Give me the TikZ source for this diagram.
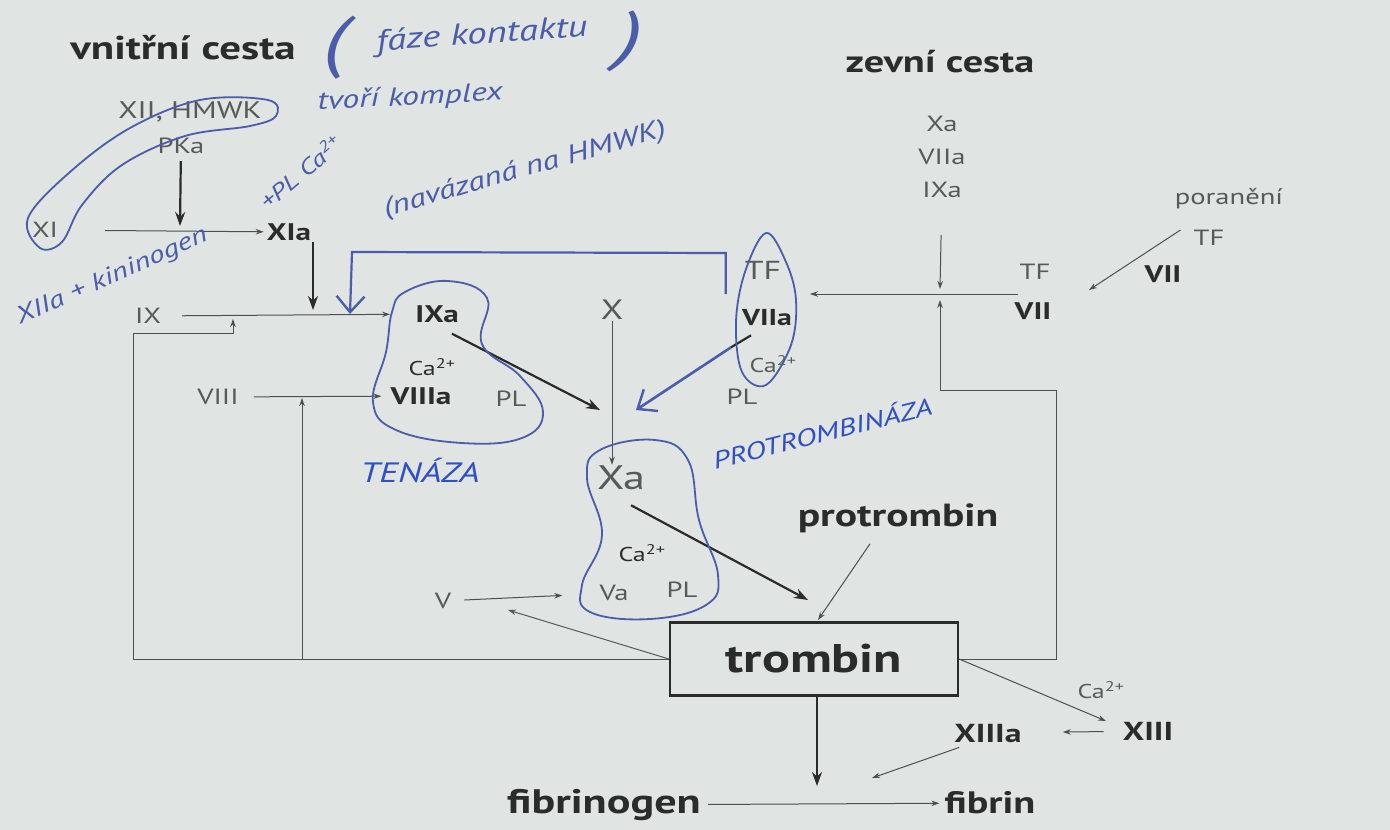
\documentclass[tikz,border=0pt]{standalone}
\usepackage{fontspec}
\setmainfont{PT Sans}[FakeStretch=1.3]
\usetikzlibrary{arrows.meta,calc}
\definecolor{bg}{HTML}{E0E4E2}
\definecolor{ink}{HTML}{2A2C2B}
\definecolor{gr}{HTML}{565B59}
\definecolor{ln}{HTML}{4C504E}
\definecolor{pen}{HTML}{4A5CAA}
\definecolor{pen2}{HTML}{2F4FC4}
\newcommand{\fs}[1]{\fontsize{#1}{#1}\selectfont}
\begin{document}
\begin{tikzpicture}[x=1pt,y=-1pt,
  lbl/.style={text=gr,inner sep=1pt,font=\fs{22}},
  blbl/.style={text=ink,inner sep=1pt,font=\fs{24}\bfseries},
  title/.style={text=ink,inner sep=1pt,font=\fs{33}\bfseries},
  big/.style={text=ink,inner sep=1pt,font=\fs{32}\bfseries},
  small/.style={text=gr,inner sep=1pt,font=\fs{20}},
  tn/.style={draw=ln,line width=1pt,-{Stealth[length=8pt,width=5.5pt]}},
  tk/.style={draw=ink,line width=2.2pt,-{Stealth[length=14pt,width=10pt]}},
  blob/.style={draw=pen,line width=1.8pt},
  hand/.style={text=pen,inner sep=0pt,font=\fs{26}\itshape},
  caps/.style={text=pen2,inner sep=0pt,font=\fs{28}\itshape}
]
\fill[bg] (0,0) rectangle (1390,830);
\useasboundingbox (0,0) rectangle (1390,830);

% titles
\node[title] (vc) at (183,48) {vnitřní cesta};
\node[title,font=\fs{31}\bfseries] (zc) at (940,62) {zevní cesta};

% intrinsic labels
\node[lbl,font=\fs{24}] (xii) at (190,112) {XII, HMWK};
\node[lbl] (pka) at (181,146) {PKa};
\node[lbl] (xi) at (45,230) {XI};
\node[blbl] (xia) at (289,232) {XIa};
\node[lbl] (ix) at (148,316) {IX};
\node[blbl] (ixa) at (437,314) {IXa};
\node[small,text=ink] (ca1) at (432,367) {Ca\textsuperscript{2+}};
\node[lbl] (viii) at (218,397) {VIII};
\node[blbl] (viiia) at (421,396) {VIIIa};
\node[small,font=\fs{22}] (pl1) at (511,399) {PL};
\node[lbl,font=\fs{28}] (x) at (612,310) {X};

% extrinsic
\node[lbl,font=\fs{26}] (tf1) at (763,270) {TF};
\node[blbl,font=\fs{23}\bfseries] (viia) at (767,318) {VIIa};
\node[small] (ca2) at (773,364) {Ca\textsuperscript{2+}};
\node[small,font=\fs{22}] (pl2) at (742,397) {PL};
\node[lbl] (e1) at (942,124) {Xa};
\node[lbl] (e2) at (942,157) {VIIa};
\node[lbl] (e3) at (942,190) {IXa};
\node[lbl] (tf2) at (1035,272) {TF};
\node[blbl] (vii1) at (1033,311) {VII};
\node[lbl] (por) at (1229,199) {poranění};
\node[lbl] (tf3) at (1209,238) {TF};
\node[blbl] (vii2) at (1163,274) {VII};

% common
\node[lbl,font=\fs{34}] (xa) at (621,478) {Xa};
\node[small,text=ink] (ca3) at (642,553) {Ca\textsuperscript{2+}};
\node[lbl] (va) at (614,593) {Va};
\node[small,font=\fs{22}] (pl3) at (682,590) {PL};
\node[lbl] (v) at (443,601) {V};
\node[big] (prot) at (898,518) {protrombin};
\node[draw=ink,line width=2.2pt,minimum width=288pt,minimum height=73pt,inner sep=0pt,
      font=\fs{40}\bfseries,text=ink] (tromb) at (814,659) {trombin};
\node[big,font=\fs{34}\bfseries] (fbg) at (604,805) {fibrinogen};
\node[big,font=\fs{31}\bfseries] (fib) at (990,803) {fibrin};
\node[small] (ca4) at (1101,690) {Ca\textsuperscript{2+}};
\node[blbl,font=\fs{26}\bfseries] (xiiia) at (988,733) {XIIIa};
\node[blbl,font=\fs{26}\bfseries] (xiii) at (1148,731) {XIII};

% coordinates
\coordinate (m1) at (180,226);
\coordinate (m2) at (313,310);
\coordinate (fb1) at (133,659);
\coordinate (fb2) at (133,333);
\coordinate (fb3) at (233,333);
\coordinate (fb4) at (233,319);
\coordinate (fb5) at (302,659);
\coordinate (fb6) at (302,398);
\coordinate (h1) at (600,410);
\coordinate (h2) at (636,410);
\coordinate (ex1) at (940,294);
\coordinate (ex2) at (940,390);
\coordinate (ex3) at (1056,390);
\coordinate (ex4) at (1056,659);
\coordinate (h3) at (808,600);
\coordinate (h4) at (818,620);
\coordinate (h5) at (508,610);
\coordinate (h6) at (1106,721);
\coordinate (h7) at (817,786);
\coordinate (h8) at (872,778);

% intrinsic connectors
\draw[tk,shorten <=6pt] (pka) -- (m1);
\draw[tn,shorten <=46pt,shorten >=2pt] (xi) -- (xia);
\draw[tk] (xia.south -| m2) -- (m2);
\draw[tn,shorten <=20pt,shorten >=24pt] (ix) -- (ixa);
\draw[tn] (tromb.west) -- (fb1) -- (fb2) -- (fb3) -- (fb4);
\draw[tn] (fb5) -- (fb6);
\draw[tn,shorten <=14pt,shorten >=8pt] (viii) -- (viiia);
\draw[tk] ($(ixa.south east)+(-8,10)$) -- (h1);
\draw[tn] (x.south) -- (x.south |- xa.north);

% extrinsic connectors
\draw[tk,-] ($(viia.south)+(-16,8)$) -- ($(viia.south)+(-36,20)$);
\draw[pen,line width=2.6pt,-{Straight Barb[length=16pt,width=26pt,line width=2.4pt]}] ($(viia.south)+(-36,20)$) -- (h2);
\draw[tn] (tf2.south west |- ex1) -- (810,294);
\draw[tn,shorten <=36pt] (e3) -- (940,289);
\draw[tn] (tromb.east) -- (ex4) -- (ex3) -- (ex2) -- (940,300);
\draw[tn] ($(tf3.west)+(-12,-8)$) -- (1089,290);

% common connectors
\draw[tk] ($(xa.south)+(10,14)$) -- (h3);
\draw[tn] ($(prot.south)+(-28,10)$) -- (h4);
\draw[tn,shorten <=12pt,shorten >=36pt] (v) -- (va);
\draw[tn,draw=gr] (tromb.west) -- (h5);
\draw[tk] (tromb.south -| h7) -- (h7);
\draw[tn,shorten <=6pt,shorten >=4pt] (fbg) -- (fib);
\draw[tn] (tromb.east) -- (h6);
\draw[tn,shorten <=18pt,shorten >=40pt] (xiii) -- (xiiia);
\draw[tn] ($(xiiia.south west)+(6,4)$) -- (h8);

% handwritten blobs
\draw[blob] plot[smooth cycle,tension=0.7] coordinates {(405,292) (448,281) (487,298) (482,344) (520,376) (543,412) (522,438) (462,443) (396,430) (373,402) (386,352) (392,312)};
\draw[blob] plot[smooth cycle,tension=0.6] coordinates {(766,233) (786,262) (796,300) (791,345) (766,385) (742,372) (736,322) (745,272)};
\draw[blob] plot[smooth cycle,tension=0.7] coordinates {(600,450) (655,440) (688,460) (699,520) (718,575) (706,605) (650,619) (590,612) (582,585) (602,535) (587,478)};
\draw[blob] plot[smooth cycle,tension=0.6] coordinates {(40,248) (28,218) (70,172) (130,128) (200,100) (268,100) (276,116) (250,126) (185,136) (122,165) (82,205) (62,242)};
\draw[pen,line width=2.2pt,-{Straight Barb[length=16pt,width=28pt,line width=2.4pt]}] ($(tf1.west)+(-18,24)$) -- ($(tf1.west)+(-18,-17)$) -- (352,252) -- (350,314);

% handwritten text
\node[hand,font=\fs{68}\itshape] (p1) at (335,48) {(};
\node[hand,font=\fs{30}\itshape,rotate=4] (n1) at (482,36) {fáze kontaktu};
\node[hand,font=\fs{68}\itshape,rotate=-6] (p2) at (630,42) {)};
\node[hand,rotate=3] (n2) at (410,98) {tvoří komplex};
\node[hand,font=\fs{22}\itshape,rotate=40] (n3) at (300,172) {+PL Ca\textsuperscript{2+}};
\node[hand,rotate=16] (n4) at (525,170) {(navázaná na HMWK)};
\node[hand,font=\fs{24}\itshape,rotate=24] (n5) at (112,277) {XIIa + kininogen};
\node[caps] (ten) at (420,470) {TENÁZA};
\node[caps,font=\fs{24}\itshape,rotate=14] (ptz) at (822,432) {PROTROMBINÁZA};
\end{tikzpicture}
\end{document}
